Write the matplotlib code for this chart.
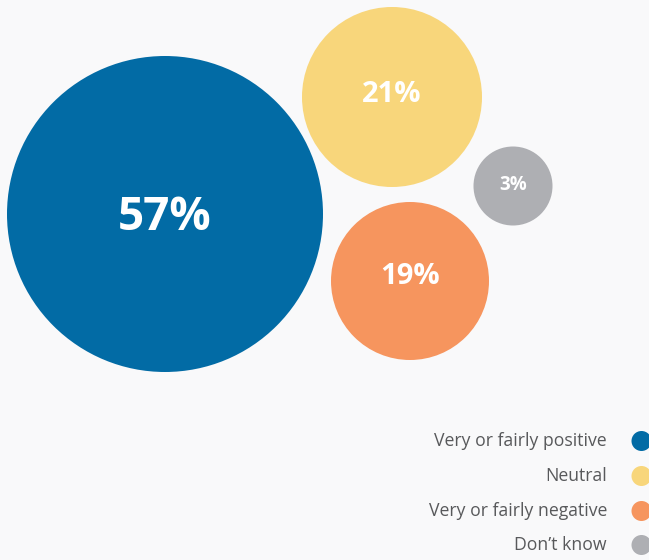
import matplotlib

matplotlib.use("Agg")

import matplotlib.pyplot as plt
from matplotlib.patches import Circle

# data
categories = ["Very or fairly positive", "Neutral", "Very or fairly negative", "Don\u2019t know"]
shares = [57, 21, 19, 3]
colors = ["#026ba5", "#f8d67b", "#f6955e", "#aeafb3"]

# layout (pixels, origin top-left)
bubble_x = [165, 392, 410, 513]
bubble_y = [214, 97, 281, 186]
bubble_r = [158, 90, 79, 39.5]
label_dy = [3, -3, -5, -1.5]
label_sizes = [33, 21, 21, 13.5]
legend_y = [441, 476, 511, 545]

BG = "#f9f9fa"
W, H = 649, 560

fig = plt.figure(figsize=(W / 100, H / 100), dpi=100, facecolor=BG)
ax = fig.add_axes([0, 0, 1, 1])
ax.set_facecolor(BG)
ax.set_xlim(0, W)
ax.set_ylim(H, 0)
ax.set_aspect("equal")
ax.axis("off")

for x, y, r, val, col, fs, dy in zip(bubble_x, bubble_y, bubble_r, shares, colors,
                                     label_sizes, label_dy):
    ax.add_patch(Circle((x, y), r, color=col, ec="none"))
    ax.text(x, y + dy, f"{val}%", ha="center", va="center", color="white",
            fontsize=fs, fontweight="bold", family="Open Sans")

for name, col, y in zip(categories, colors, legend_y):
    ax.add_patch(Circle((641.5, y), 10, color=col, ec="none"))
    ax.text(607, y, name, ha="right", va="center", color="#58595b",
            fontsize=12.7, family="Open Sans")

fig.savefig("out.png", dpi=100, facecolor=BG)
